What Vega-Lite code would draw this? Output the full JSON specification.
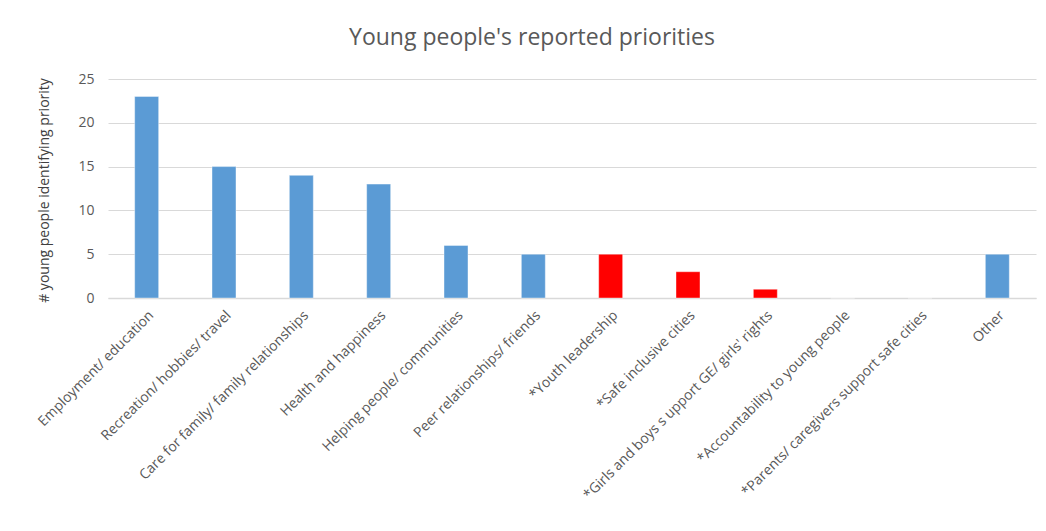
{
  "$schema": "https://vega.github.io/schema/vega-lite/v6.json",
  "autosize": {"type": "none"},
  "width": 928,
  "height": 219,
  "padding": {"left": 108, "top": 79, "right": 10, "bottom": 233},
  "background": "white",
  "title": {
    "text": "Young people's reported priorities",
    "font": "Open Sans",
    "fontSize": 23,
    "fontWeight": "normal",
    "color": "#595959",
    "anchor": "middle",
    "dx": -40,
    "offset": 22
  },
  "data": {
    "values": [
      {"priority": "Employment/ education", "count": 23, "type": "reported"},
      {"priority": "Recreation/ hobbies/ travel", "count": 15, "type": "reported"},
      {"priority": "Care for family/ family relationships", "count": 14, "type": "reported"},
      {"priority": "Health and happiness", "count": 13, "type": "reported"},
      {"priority": "Helping people/ communities", "count": 6, "type": "reported"},
      {"priority": "Peer relationships/ friends", "count": 5, "type": "reported"},
      {"priority": "*Youth leadership", "count": 5, "type": "starred"},
      {"priority": "*Safe inclusive cities", "count": 3, "type": "starred"},
      {"priority": "*Girls and boys s upport GE/ girls' rights", "count": 1, "type": "starred"},
      {"priority": "*Accountability to young people", "count": 0, "type": "starred"},
      {"priority": "*Parents/ caregivers support safe cities", "count": 0, "type": "starred"},
      {"priority": "Other", "count": 5, "type": "reported"}
    ]
  },
  "mark": {"type": "bar", "stroke": "#ffffff", "strokeOpacity": 0.4, "strokeWidth": 1},
  "encoding": {
    "x": {
      "field": "priority",
      "type": "nominal",
      "sort": null,
      "scale": {"paddingInner": 0.69, "paddingOuter": 0.345},
      "axis": {
        "title": null,
        "labelAngle": -45,
        "labelFont": "Open Sans",
        "labelFontSize": 14,
        "labelColor": "#595959",
        "labelPadding": 10,
        "labelLimit": 400,
        "ticks": false,
        "domainColor": "#d9d9d9",
        "domainWidth": 1.5,
        "grid": false
      }
    },
    "y": {
      "field": "count",
      "type": "quantitative",
      "scale": {"domain": [0, 25]},
      "axis": {
        "title": "# young people identifying priority",
        "titleFont": "Open Sans",
        "titleFontSize": 14,
        "titleFontWeight": "normal",
        "titleColor": "#404040",
        "titleX": -64,
        "titleY": 111,
        "titleAlign": "center",
        "titleBaseline": "middle",
        "values": [0, 5, 10, 15, 20, 25],
        "labelFont": "Open Sans",
        "labelFontSize": 14,
        "labelColor": "#595959",
        "labelPadding": 14,
        "ticks": false,
        "domain": false,
        "grid": true,
        "gridColor": "#d9d9d9",
        "gridWidth": 1
      }
    },
    "color": {
      "field": "type",
      "type": "nominal",
      "scale": {"domain": ["reported", "starred"], "range": ["#5b9bd5", "#ff0000"]},
      "legend": null
    }
  },
  "config": {"view": {"stroke": null}}
}
